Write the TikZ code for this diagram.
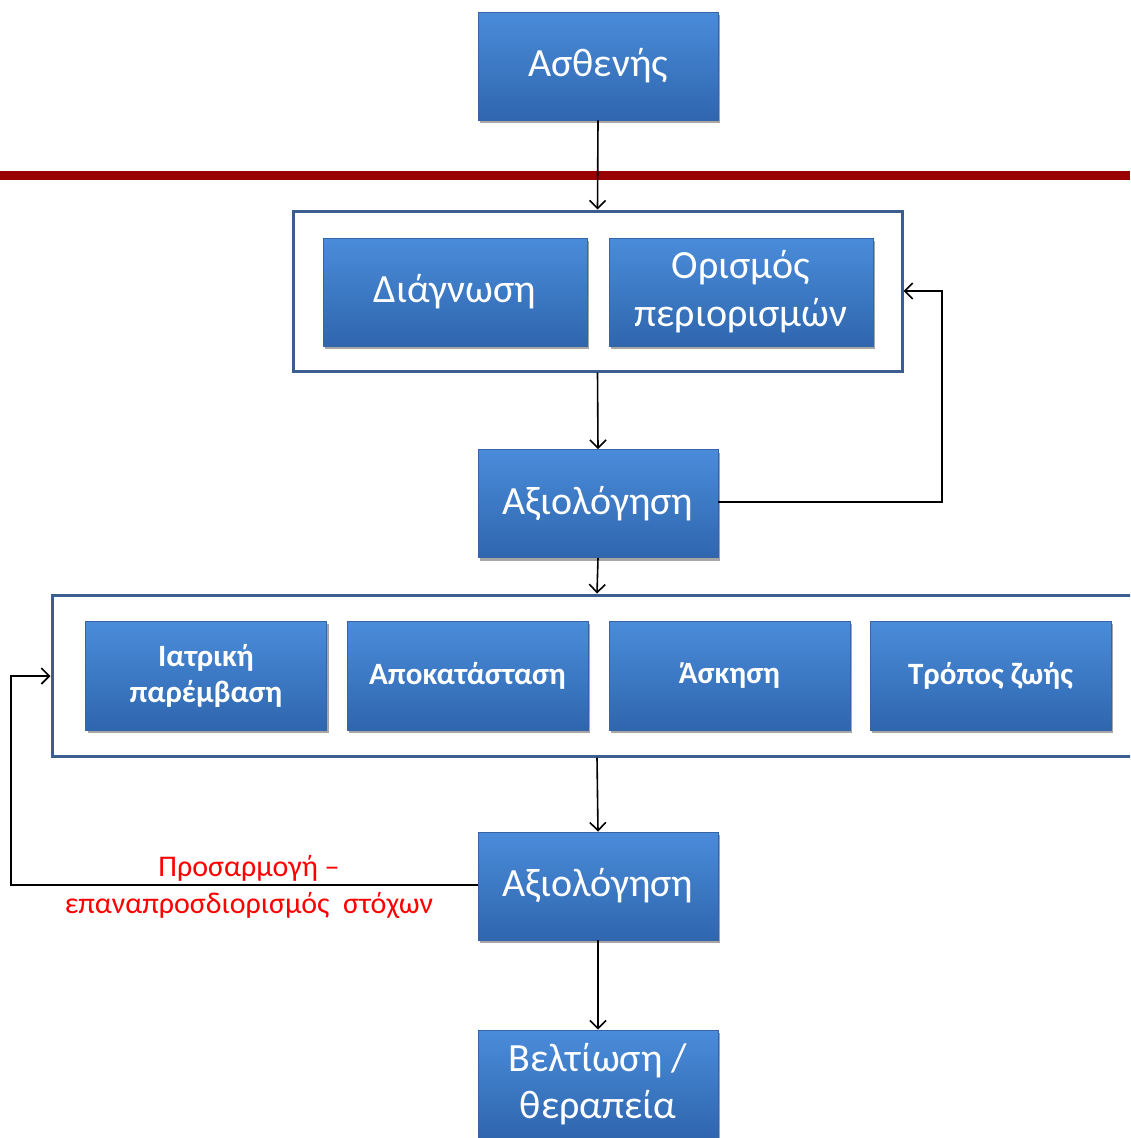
\documentclass[tikz,border=0pt]{standalone}
\usepackage{fontspec}
\setmainfont{Carlito}
\usetikzlibrary{arrows.meta,shadows,positioning}
\definecolor{boxtop}{HTML}{4A8CDA}
\definecolor{boxbot}{HTML}{2F66AE}
\definecolor{boxedge}{HTML}{3565A6}
\definecolor{frameblue}{HTML}{3B5E8F}
\definecolor{lineRed}{HTML}{990000}
\tikzset{
  bluebox/.style={rectangle, draw=boxedge, line width=0.8pt, top color=boxtop, bottom color=boxbot,
    text=white, align=center, inner sep=0pt,
    drop shadow={shadow xshift=2pt, shadow yshift=-3pt, opacity=0.35, fill=black}},
  bigbox/.style={bluebox, minimum width=240pt, minimum height=108pt, font=\fontsize{40}{48}\selectfont},
  midbox/.style={bluebox, minimum width=264pt, minimum height=108pt, font=\fontsize{40}{48}\selectfont},
  smallbox/.style={bluebox, minimum width=241pt, minimum height=109pt, font=\fontsize{31}{36}\selectfont\bfseries},
  framebox/.style={rectangle, draw=frameblue, line width=3pt, fill=white, inner sep=0pt},
  conn/.style={draw=black, line width=1.6pt, -{Straight Barb[length=8pt,width=16pt,line width=1.6pt]}},
  lbl/.style={text=red, align=center, font=\fontsize{30}{37}\selectfont}
}
\begin{document}
\begin{tikzpicture}[x=1pt,y=-1pt]
\clip (0,0) rectangle (1130,1138);
\fill[white] (0,0) rectangle (1130,1138);
% red line
\fill[lineRed] (0,171) rectangle (1130,180);
% frames
\node[framebox, minimum width=609pt, minimum height=160pt] (f1) at (597.5,291) {};
\node[framebox, minimum width=1090pt, minimum height=161pt] (f2) at (597,675.5) {};
% boxes
\node[bigbox] (asth) at (598,66) {Ασθενής};
\node[midbox] (diag) at (455,292) {Διάγνωση};
\node[midbox] (oris) at (741,292) {Ορισμός\\περιορισμών};
\node[bigbox] (axi1) at (598,503.5) {Αξιολόγηση};
\node[smallbox] (iatr) at (206,675.5) {Ιατρική\\παρέμβαση};
\node[smallbox] (apok) at (467.5,675.5) {Αποκατάσταση};
\node[smallbox] (ask) at (729.5,675.5) {Άσκηση};
\node[smallbox] (trop) at (990.5,675.5) {Τρόπος ζωής};
\node[bigbox] (axi2) at (598,886) {Αξιολόγηση};
\node[bigbox, font=\fontsize{40}{47}\selectfont] (belt) at (598,1084) {Βελτίωση /\\θεραπεία};
% helper coordinates
\coordinate (r1) at (942,502);
\coordinate (r2) at (942,291);
\coordinate (l1) at (11,885);
\coordinate (l2) at (11,676);
% connectors
\draw[conn] (asth.south) -- (f1.north);
\draw[conn] (f1.south) -- (axi1.north);
\draw[conn] (axi1.east |- r1) -- (r1) -- (r2) -- (f1.east |- r2);
\draw[conn] (axi1.south) -- (f2.north);
\draw[conn] (f2.south) -- (axi2.north);
\draw[conn] (axi2.west |- l1) -- (l1) -- (l2) -- (f2.west |- l2);
\draw[conn] (axi2.south) -- (belt.north);
% label
\node[lbl] (adj) at (249,887) {Προσαρμογή –\\επαναπροσδιορισμός\ \ στόχων};
\end{tikzpicture}
\end{document}
